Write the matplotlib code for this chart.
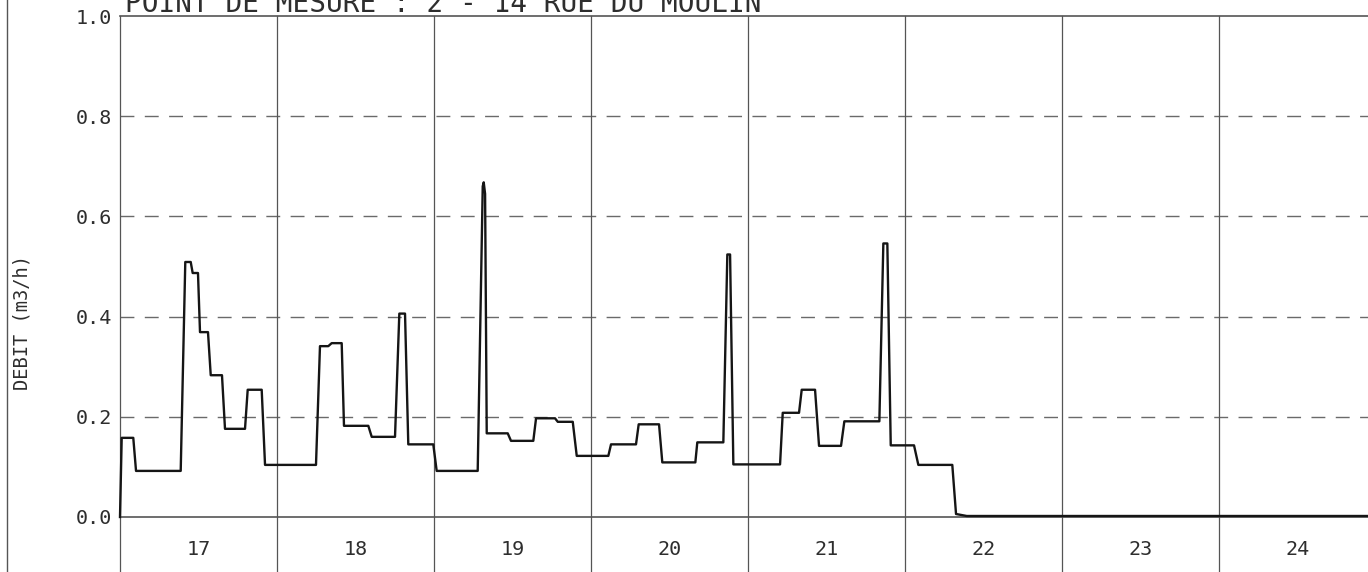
import matplotlib
matplotlib.use("Agg")
import matplotlib.pyplot as plt

# Flow readings: hours elapsed since day 17 00:00, and flow in m3/h
hours = [0.0, 0.26, 2.03, 2.45, 9.28, 9.98, 10.81, 11.11, 11.92, 12.23, 13.45, 13.87,
         15.59, 16.05, 19.11, 19.52, 21.66, 22.17,
         29.96, 30.57, 31.84, 32.36, 33.89, 34.24, 37.96, 38.48, 42.04, 42.70,
         43.57, 44.07, 47.89, 48.41,
         54.68, 55.45, 55.60, 55.81, 56.06, 59.27, 59.77, 63.18, 63.60, 66.50,
         66.92, 69.21, 69.82,
         74.65, 75.06, 78.88, 79.29, 82.40, 82.90, 87.95, 88.25, 92.23, 92.84,
         93.26, 93.76,
         100.90, 101.31, 103.80, 104.21, 106.25, 106.86, 110.22, 110.73, 116.08,
         116.69, 117.30, 117.82, 121.38, 122.04, 127.23, 127.80, 129.44, 192.0]
flow = [0.0, 0.158, 0.158, 0.092, 0.092, 0.509, 0.509, 0.487, 0.487, 0.369, 0.369, 0.283,
        0.283, 0.176, 0.176, 0.254, 0.254, 0.104,
        0.104, 0.341, 0.341, 0.347, 0.347, 0.182, 0.182, 0.160, 0.160, 0.406,
        0.406, 0.145, 0.145, 0.092,
        0.092, 0.660, 0.668, 0.645, 0.167, 0.167, 0.152, 0.152, 0.197, 0.197,
        0.190, 0.190, 0.122,
        0.122, 0.145, 0.145, 0.185, 0.185, 0.109, 0.109, 0.149, 0.149, 0.524,
        0.524, 0.105,
        0.105, 0.208, 0.208, 0.254, 0.254, 0.142, 0.142, 0.191, 0.191, 0.546,
        0.546, 0.143, 0.143, 0.104, 0.104, 0.006, 0.002, 0.002]

days = [17, 18, 19, 20, 21, 22, 23, 24]
y_ticks = [0.0, 0.2, 0.4, 0.6, 0.8, 1.0]
y_tick_labels = ["0.0", "0.2", "0.4", "0.6", "0.8", "1.0"]
title = "POINT DE MESURE : 2 - 14 RUE DU MOULIN"
y_label = "DEBIT (m3/h)"

FONT = "DejaVu Sans Mono"
GRID = "#555555"
DASH = "#6a6a6a"
INK = "#151515"
TEXT = "#2e2e2e"

W, H = 1368, 572
fig = plt.figure(figsize=(W / 100, H / 100), dpi=100)
fig.patch.set_facecolor("white")

# axes run past the right edge of the sheet, as on the plotter output
ax = fig.add_axes([120 / W, (H - 517) / H, (8 * 157) / W, 501 / H])
ax.set_xlim(days[0], days[-1] + 1)
ax.set_ylim(0, 1)
for s in ax.spines.values():
    s.set_visible(False)
ax.set_xticks([])
ax.set_yticks(y_ticks)
ax.set_yticklabels(y_tick_labels, family=FONT, fontsize=14.5, color=TEXT)
ax.tick_params(axis="y", length=0, pad=6)

# dashed horizontal grid
for yv in y_ticks[1:-1]:
    ax.plot([days[0], days[-1] + 1], [yv, yv], color=DASH, lw=1.0,
            ls=(0, (10, 7.5)), clip_on=False)
# solid frame lines at 0 and 1
for yv in (0.0, 1.0):
    ax.plot([days[0], days[-1] + 1], [yv, yv], color=GRID, lw=1.2, clip_on=False)

# day separators, extended down through the label row
for d in days + [days[-1] + 1]:
    ax.plot([d, d], [-0.13, 1.0], color=GRID, lw=0.9, clip_on=False)

# day labels
for d in days:
    ax.text(d + 0.5, -0.064, str(d), ha="center", va="center",
            family=FONT, fontsize=14.5, color=TEXT, clip_on=False)

# flow trace
x = [days[0] + h / 24.0 for h in hours]
ax.plot(x, flow, color=INK, lw=1.7, solid_joinstyle="round", clip_on=False)

# left border of the sheet
fig.add_artist(plt.Line2D([7 / W, 7 / W], [0, 1], color=GRID, lw=1.0))

# axis caption and title
fig.text(22 / W, 1 - 323 / H, y_label, rotation=90, ha="center", va="center",
         family=FONT, fontsize=13.5, color=TEXT)
fig.text(125 / W, 1 - 12 / H, title, ha="left", va="baseline",
         family=FONT, fontsize=20, color=TEXT)

fig.savefig("out.png", dpi=100, facecolor="white")
